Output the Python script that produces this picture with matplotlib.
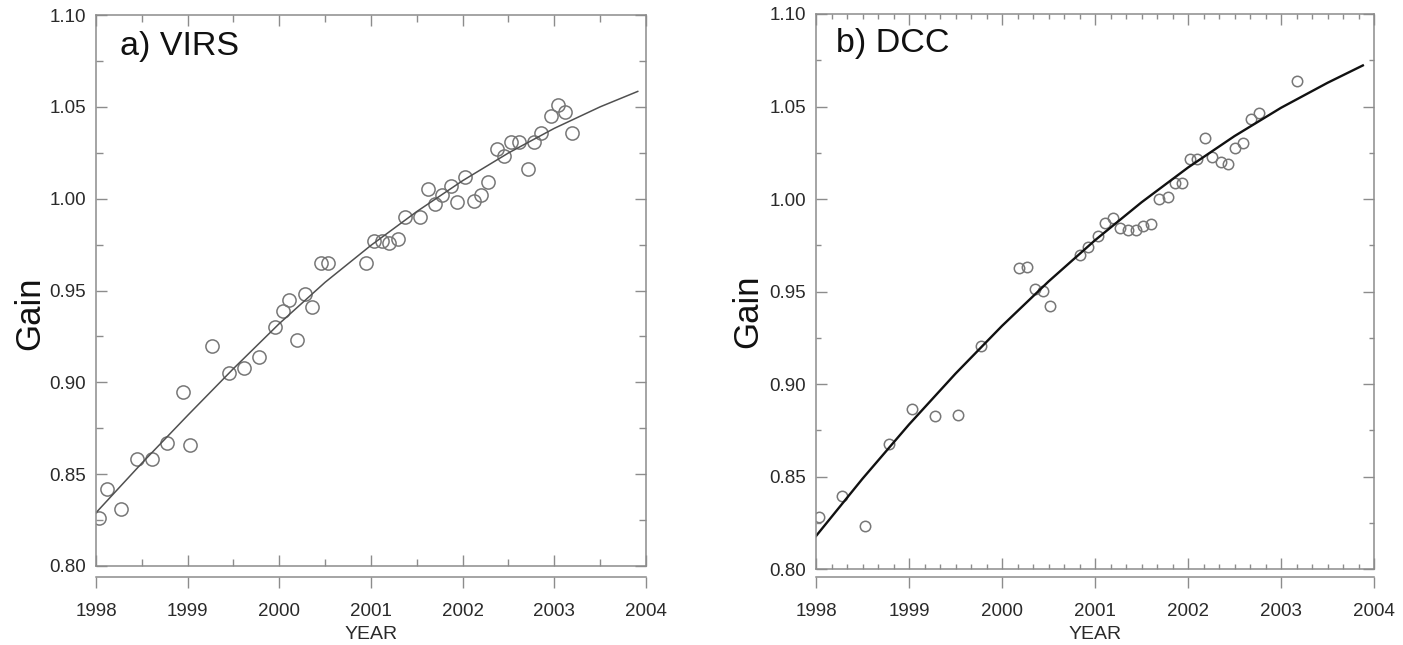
import matplotlib
matplotlib.use("Agg")
import matplotlib.pyplot as plt
from matplotlib.ticker import MultipleLocator, FixedLocator

plt.rcParams["font.family"] = ["Liberation Sans", "DejaVu Sans"]

# --- data ---
virs_year = [1998.03, 1998.12, 1998.27, 1998.45, 1998.61, 1998.78, 1998.95, 1999.03,
             1999.27, 1999.45, 1999.61, 1999.78, 1999.95, 2000.04, 2000.11, 2000.19,
             2000.28, 2000.36, 2000.45, 2000.53, 2000.95, 2001.03, 2001.12, 2001.20,
             2001.29, 2001.37, 2001.53, 2001.62, 2001.70, 2001.78, 2001.87, 2001.94,
             2002.03, 2002.12, 2002.20, 2002.28, 2002.37, 2002.45, 2002.53, 2002.62,
             2002.71, 2002.78, 2002.86, 2002.96, 2003.04, 2003.12, 2003.19]
virs_gain = [0.826, 0.842, 0.831, 0.858, 0.858, 0.867, 0.895, 0.866,
             0.920, 0.905, 0.908, 0.914, 0.930, 0.939, 0.945, 0.923,
             0.948, 0.941, 0.965, 0.965, 0.965, 0.977, 0.977, 0.976,
             0.978, 0.990, 0.990, 1.005, 0.997, 1.002, 1.007, 0.998,
             1.012, 0.999, 1.002, 1.009, 1.027, 1.023, 1.031, 1.031,
             1.016, 1.031, 1.036, 1.045, 1.051, 1.047, 1.036]
virs_fit_year = [1998.0, 1998.5, 1999.0, 1999.5, 2000.0, 2000.5, 2001.0, 2001.5,
                 2002.0, 2002.5, 2003.0, 2003.5, 2003.91]
virs_fit_gain = [0.829, 0.856, 0.882, 0.9075, 0.932, 0.9545, 0.9746, 0.9930,
                 1.0098, 1.0249, 1.0383, 1.0500, 1.0584]

dcc_year = [1998.03, 1998.28, 1998.53, 1998.78, 1999.03, 1999.28, 1999.53, 1999.77,
            2000.18, 2000.27, 2000.35, 2000.44, 2000.52, 2000.84, 2000.93, 2001.03,
            2001.11, 2001.19, 2001.27, 2001.36, 2001.44, 2001.52, 2001.60, 2001.69,
            2001.78, 2001.86, 2001.94, 2002.02, 2002.10, 2002.18, 2002.26, 2002.35,
            2002.43, 2002.51, 2002.59, 2002.68, 2002.76, 2003.17]
dcc_gain = [0.828, 0.8395, 0.8234, 0.8676, 0.8865, 0.8829, 0.8832, 0.9205,
            0.9625, 0.9634, 0.9512, 0.9504, 0.942, 0.970, 0.9742, 0.980,
            0.9872, 0.9896, 0.9845, 0.9832, 0.9832, 0.9856, 0.9863, 0.9998,
            1.0013, 1.0085, 1.0088, 1.0216, 1.0216, 1.0328, 1.0229, 1.0202,
            1.0188, 1.0274, 1.0304, 1.0432, 1.0463, 1.0638]
dcc_fit_year = [1998.0, 1998.5, 1999.0, 1999.5, 2000.0, 2000.5, 2001.0, 2001.5,
                2002.0, 2002.5, 2003.0, 2003.5, 2003.88]
dcc_fit_gain = [0.8178, 0.8488, 0.8781, 0.9056, 0.9314, 0.9554, 0.9777, 0.9982,
                1.0170, 1.0340, 1.0493, 1.0628, 1.0722]

year_ticks = [1998, 1999, 2000, 2001, 2002, 2003, 2004]
gain_ticks = [0.80, 0.85, 0.90, 0.95, 1.00, 1.05, 1.10]

AXIS_GRAY = "#8c8c8c"
TEXT = "#2a2a2a"


def panel(fig, rect, title, xs, ys, fx, fy, minor_step, ms, line_color, lw,
          major_len, minor_len, sec_loc, title_xy, gain_xy):
    ax = fig.add_axes(rect)
    ax.plot(xs, ys, linestyle="none", marker="o", markersize=ms,
            markerfacecolor="none", markeredgecolor="#777777", markeredgewidth=1.1)
    ax.plot(fx, fy, color=line_color, linewidth=lw)
    ax.set_xlim(1998, 2004)
    ax.set_ylim(0.80, 1.10)
    for s in ax.spines.values():
        s.set_color(AXIS_GRAY)
        s.set_linewidth(1.1)

    ax.xaxis.set_major_locator(FixedLocator(year_ticks))
    ax.xaxis.set_minor_locator(MultipleLocator(minor_step))
    ax.yaxis.set_major_locator(FixedLocator(gain_ticks))
    ax.yaxis.set_minor_locator(MultipleLocator(0.025))
    ax.tick_params(axis="x", which="both", direction="in", top=True, bottom=True,
                   labelbottom=False, color=AXIS_GRAY)
    ax.tick_params(axis="y", which="both", direction="in", left=True, right=True,
                   labelsize=13.5, labelcolor=TEXT, color=AXIS_GRAY, pad=7)
    ax.tick_params(which="major", length=major_len, width=1.0)
    ax.tick_params(which="minor", length=minor_len, width=1.0)
    ax.set_yticklabels([f"{v:.2f}" for v in gain_ticks])

    sec = ax.secondary_xaxis(sec_loc)
    sec.set_xticks(year_ticks)
    sec.set_xticklabels([str(y) for y in year_ticks])
    sec.spines["bottom"].set_color(AXIS_GRAY)
    sec.spines["bottom"].set_linewidth(1.1)
    sec.tick_params(axis="x", direction="out", length=8, width=1.0, color=AXIS_GRAY,
                    labelsize=13.5, labelcolor=TEXT, pad=11)
    sec.xaxis.set_minor_locator(FixedLocator([]))
    sec.set_xlabel("YEAR", fontsize=14, color=TEXT, labelpad=4)

    ax.text(title_xy[0], title_xy[1], title, transform=ax.transAxes,
            fontsize=24.5, color="#111111", ha="left", va="baseline")
    fig.text(gain_xy[0], gain_xy[1], "Gain", rotation=90, fontsize=25,
             color="#111111", ha="center", va="center")
    return ax


fig = plt.figure(figsize=(14.03, 6.45), dpi=100)

panel(fig, [96 / 1403, 1 - 566 / 645, 550 / 1403, 551 / 645], "a) VIRS",
      virs_year, virs_gain, virs_fit_year, virs_fit_gain, 0.5, 9.5, "#505050", 1.1,
      8, 5, -0.02, (0.044, 0.927), (30 / 1403, 1 - 313 / 645))
panel(fig, [816 / 1403, 1 - 569 / 645, 558 / 1403, 555 / 645], "b) DCC",
      dcc_year, dcc_gain, dcc_fit_year, dcc_fit_gain, 1 / 6, 7.5, "#111111", 1.7,
      8, 3.5, -0.0145, (0.036, 0.9315), (748 / 1403, 1 - 311 / 645))

fig.savefig("out.png", dpi=100)
